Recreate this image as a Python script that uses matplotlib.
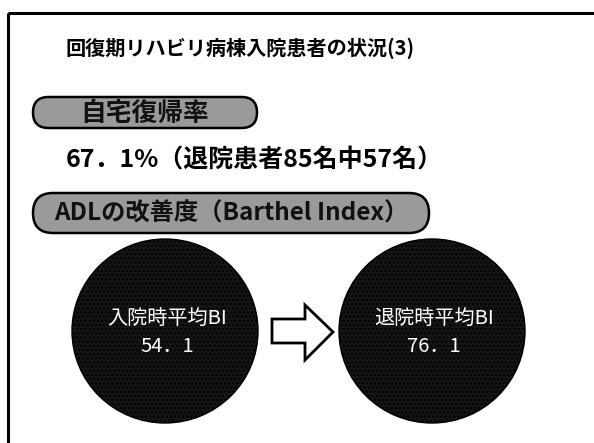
import matplotlib
matplotlib.use("Agg")
import matplotlib.pyplot as plt
from matplotlib.patches import Ellipse, FancyBboxPatch, Polygon, Rectangle

plt.rcParams['font.family'] = ['Noto Sans CJK JP', 'DejaVu Sans']
plt.rcParams['hatch.color'] = '#555555'

# ---- data ----
title = "回復期リハビリ病棟入院患者の状況(3)"
section_labels = ["自宅復帰率", "ADLの改善度（Barthel Index）"]
home_return_rate = 67.1
discharged_total = 85
returned_home = 57
bi_labels = ["入院時平均BI", "退院時平均BI"]
bi_values = [54.1, 76.1]

def fw(v):
    return f"{v:.1f}".replace(".", "．")

fig = plt.figure(figsize=(5.94, 4.43), dpi=100)
ax = fig.add_axes([0, 0, 1, 1])
ax.set_xlim(0, 594)
ax.set_ylim(443, 0)
ax.axis("off")

# frame
ax.add_patch(Rectangle((8, 13), 600, 450, fill=False, ec="black", lw=2.2))

# title
ax.text(66, 48, title, fontsize=14.5, va="center", ha="left", color="black",
        fontweight="bold")

# pills
pills = [(33, 97, 224, 31), (33, 193, 396, 40)]
sizes = [18.5, 17.5]
for (x, y, w, h), lab, fs in zip(pills, section_labels, sizes):
    ax.add_patch(FancyBboxPatch((x, y), w, h,
                                boxstyle=f"round,pad=0,rounding_size={h/2}",
                                fc="#9a9a9a", ec="black", lw=1.8))
    ax.text(x + w / 2, y + h / 2 + 1, lab, fontsize=fs, ha="center",
            va="center", color="#111111", fontweight="bold")

# home return line
line = f"{fw(home_return_rate)}%（退院患者{discharged_total}名中{returned_home}名）"
ax.text(66, 160, line, fontsize=18, ha="left", va="center", color="black",
        fontweight="bold")

# circles
centers = [165, 432]
for cx, lab, val in zip(centers, bi_labels, bi_values):
    ax.add_patch(Ellipse((cx, 331), 186, 184, fc="#151515", ec="black",
                         lw=1, hatch="...."))
    ax.text(cx + 2, 318, lab, fontsize=14.5, ha="center", va="center",
            color="white")
    ax.text(cx + 2, 347, fw(val), fontsize=14.5, ha="center", va="center",
            color="white")

# arrow
arrow = Polygon([(272, 319), (305, 319), (305, 305), (333, 332),
                 (305, 360), (305, 343), (272, 343)], closed=True,
                fc="white", ec="black", lw=2)
ax.add_patch(arrow)

fig.savefig("out.png", dpi=100)
